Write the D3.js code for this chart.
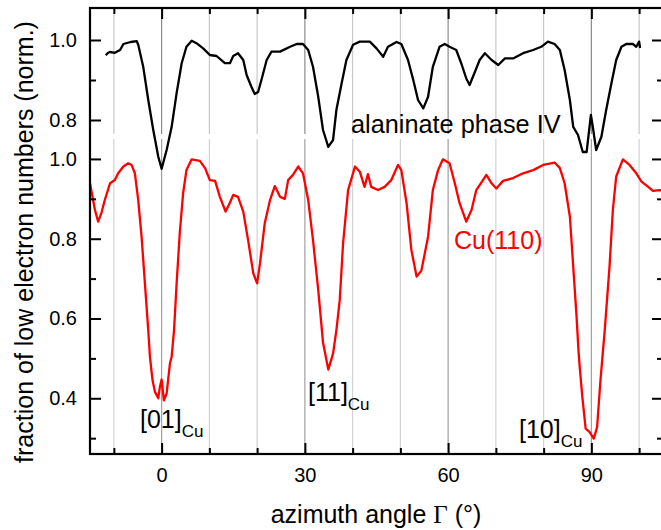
<!DOCTYPE html>
<html>
<head>
<meta charset="utf-8">
<script src="https://cdn.jsdelivr.net/npm/d3@7/dist/d3.min.js"></script>
<style>
  body { margin: 0; background: #fff; }
  svg { display: block; font-family: "Liberation Sans", Arial, sans-serif; }
</style>
</head>
<body>
<svg id="chart" width="661" height="530"></svg>
<script>
// alaninate phase IV (upper curve)
var angleAla = [-11.7,-11.2,-10.8,-9.8,-8.7,-8,-6.5,-5.2,-4.9,-3.85,-2.8,-1.75,-0.7,0,1.05,2.1,3.14,4.2,5.2,6.3,7.3,8.7,10.1,11.5,13.25,14.3,15,16,17.1,17.8,18.8,19.5,20.2,20.9,22,23,24.8,26.9,28.3,29.6,30.7,31.7,32.8,33.8,34.9,35.9,36.6,37.7,38.7,40.1,41.5,43.6,45,46.4,47.4,49.2,50.2,51.6,52.7,53.7,54.8,55.8,56.8,58.2,59.3,60.3,61.7,62.8,63.8,64.5,65.6,66.6,67.7,69.1,70.5,71.9,73.6,75.7,77.8,79.5,80.9,82.3,83.4,84.4,85.5,86.2,87.2,88.2,89,89.9,90.3,91,92.1,93.1,94.2,95.2,96.3,97.3,98.7,99.4,100,100.2];
var fracAla = [0.962,0.968,0.97,0.968,0.975,0.99,0.995,0.997,0.988,0.933,0.85,0.775,0.708,0.678,0.725,0.783,0.867,0.942,0.983,0.998,0.992,0.979,0.9625,0.96,0.942,0.942,0.96,0.967,0.95,0.9125,0.883,0.865,0.87,0.9,0.95,0.971,0.971,0.983,0.99,0.99,0.975,0.933,0.858,0.775,0.733,0.75,0.825,0.892,0.95,0.988,0.996,0.996,0.979,0.958,0.983,0.995,0.99,0.95,0.9,0.85,0.829,0.858,0.933,0.983,0.99,0.983,0.975,0.94,0.904,0.8875,0.92,0.95,0.967,0.95,0.9375,0.954,0.954,0.967,0.975,0.983,0.996,0.99,0.975,0.925,0.85,0.783,0.7625,0.72,0.72,0.8125,0.783,0.725,0.758,0.825,0.892,0.95,0.983,0.99,0.99,0.983,0.996,0.98];

// Cu(110) (lower curve)
var angleCu = [-15.3,-15,-13.96,-13.3,-12.6,-11.9,-10.8,-9.8,-9.1,-8,-7,-6.3,-5.6,-4.9,-4.2,-3.5,-2.8,-2.45,-1.9,-1.4,-0.7,-0.36,0,0.48,1.05,1.74,2.1,2.6,3.14,3.8,4.5,5.2,6.3,8,9.1,10.1,11.2,12.2,13.4,14.3,15,16,17.1,18.1,19.2,20,20.6,21.6,22.7,23.7,24.8,25.8,26.5,27.5,28.6,29.6,30.7,31.7,32.8,33.8,34.9,35.9,36.6,37.3,38,39.05,40.5,41.5,42.5,43.2,43.9,45.3,46.7,48.1,49.5,50.2,51.3,52.3,53.4,54.4,55.8,56.8,57.9,58.9,60.3,61.4,62.4,63.8,64.9,65.9,67.3,68,69.1,70.1,71.5,73.6,75.7,77.8,79.9,82.3,83.4,84.4,85.5,86.2,86.9,87.3,87.5,88.1,88.8,89.6,90.5,91.2,91.9,92.8,93.8,94.5,95.2,96.6,98,99.4,100.5,101.9,102.9,104.3,105.5];
var fracCu = [0.95,0.939,0.872,0.843,0.865,0.897,0.939,0.947,0.964,0.981,0.989,0.985,0.964,0.897,0.805,0.688,0.571,0.504,0.445,0.416,0.40,0.429,0.447,0.395,0.412,0.487,0.504,0.571,0.688,0.814,0.914,0.972,0.999,0.995,0.977,0.947,0.945,0.905,0.868,0.89,0.91,0.905,0.868,0.797,0.713,0.688,0.738,0.839,0.897,0.932,0.905,0.9,0.947,0.96,0.981,0.964,0.897,0.797,0.671,0.54,0.472,0.512,0.571,0.646,0.788,0.922,0.981,0.968,0.93,0.962,0.93,0.922,0.93,0.947,0.985,0.972,0.889,0.772,0.705,0.72,0.805,0.922,0.972,0.999,0.989,0.939,0.889,0.843,0.872,0.922,0.947,0.96,0.939,0.926,0.945,0.952,0.964,0.972,0.985,0.991,0.977,0.939,0.855,0.73,0.604,0.52,0.487,0.404,0.324,0.316,0.299,0.328,0.445,0.571,0.73,0.872,0.956,0.999,0.985,0.964,0.943,0.93,0.92,0.922,0.92];

var xMajor = [0, 30, 60, 90];
var xMinor = [-10, 10, 20, 40, 50, 70, 80, 100];
var yTopMajor = [0.8, 1.0], yTopMinor = [0.9];
var yCuMajor = [0.4, 0.6, 0.8, 1.0], yCuMinor = [0.3, 0.5, 0.7, 0.9];

var svg = d3.select('#chart');
var L = 90, R = 663, T = 8, B = 454;

var x = d3.scaleLinear().domain([-15, 105]).range([L, R]);
var yTop = d3.scaleLinear().domain([0.76, 1.08]).range([136, T]);
var yCu = d3.scaleLinear().domain([0.2603, 1.055]).range([B, 137]);

svg.append('defs').append('clipPath').attr('id', 'frame')
   .append('rect').attr('x', L).attr('y', T).attr('width', R - L).attr('height', B - T);

// grid lines, one set per layer
var grid = svg.append('g').attr('id', 'grid');
function gridLines(y0, y1, topLayer) {
    grid.append('g').selectAll('line')
        .data(xMajor.concat(xMinor))
        .enter().append('line')
        .attr('x1', function(d){ return x(d); }).attr('x2', function(d){ return x(d); })
        .attr('y1', y0).attr('y2', y1)
        .style('stroke', function(d){ return xMajor.indexOf(d) >= 0 ? (topLayer ? '#8c8c8c' : '#a0a0a0') : (topLayer ? '#c8c8c8' : '#d2d2d2'); })
        .style('stroke-width', 1.2);
}
gridLines(T, 134, true);
gridLines(139, B, false);

// curves
var plot = svg.append('g').attr('clip-path', 'url(#frame)');
var lineAla = d3.line().x(function(d){ return x(d[0]); }).y(function(d){ return yTop(d[1]); });
var lineCu = d3.line().x(function(d){ return x(d[0]); }).y(function(d){ return yCu(d[1]); });

plot.append('path')
    .attr('d', lineCu(d3.zip(angleCu, fracCu)))
    .style('fill', 'none').style('stroke', '#ff0000').style('stroke-width', 2.3)
    .style('stroke-linejoin', 'round');
plot.append('path')
    .attr('d', lineAla(d3.zip(angleAla, fracAla)))
    .style('fill', 'none').style('stroke', '#000').style('stroke-width', 2.3)
    .style('stroke-linejoin', 'round');

// axes (ticks inward)
function styleAxis(g) {
    g.select('.domain').remove();
    g.selectAll('line').style('stroke', '#000').style('stroke-width', 2);
    g.selectAll('text').style('font-size', '20px').style('fill', '#000')
     .style('font-family', '"Liberation Sans", Arial, sans-serif');
}
var axes = svg.append('g').attr('id', 'axes');
axes.append('g').attr('transform', 'translate(0,' + B + ')')
    .call(d3.axisBottom(x).tickValues(xMajor).tickSize(-11).tickPadding(14).tickFormat(d3.format('d'))).call(styleAxis);
axes.append('g').attr('transform', 'translate(0,' + B + ')')
    .call(d3.axisBottom(x).tickValues(xMinor).tickSize(-6).tickFormat('')).call(styleAxis);
axes.append('g').attr('transform', 'translate(0,' + T + ')')
    .call(d3.axisTop(x).tickValues(xMajor).tickSize(-11).tickFormat('')).call(styleAxis);
axes.append('g').attr('transform', 'translate(0,' + T + ')')
    .call(d3.axisTop(x).tickValues(xMinor).tickSize(-6).tickFormat('')).call(styleAxis);

[[yTop, yTopMajor, yTopMinor], [yCu, yCuMajor, yCuMinor]].forEach(function(p){
    axes.append('g').attr('transform', 'translate(' + L + ',0)')
        .call(d3.axisLeft(p[0]).tickValues(p[1]).tickSize(-11).tickPadding(13).tickFormat(d3.format('.1f'))).call(styleAxis);
    axes.append('g').attr('transform', 'translate(' + L + ',0)')
        .call(d3.axisLeft(p[0]).tickValues(p[2]).tickSize(-6).tickFormat('')).call(styleAxis);
    axes.append('g').attr('transform', 'translate(' + R + ',0)')
        .call(d3.axisRight(p[0]).tickValues(p[1]).tickSize(-11).tickFormat('')).call(styleAxis);
    axes.append('g').attr('transform', 'translate(' + R + ',0)')
        .call(d3.axisRight(p[0]).tickValues(p[2]).tickSize(-6).tickFormat('')).call(styleAxis);
});

// frame
axes.append('rect').attr('x', L).attr('y', T).attr('width', R - L).attr('height', B - T)
    .style('fill', 'none').style('stroke', '#000').style('stroke-width', 2.2);

// axis titles
svg.append('text')
    .attr('transform', 'translate(33,' + 242 + ') rotate(-90)')
    .attr('text-anchor', 'middle')
    .style('font-size', '25px')
    .text('fraction of low electron numbers (norm.)');

var xt = svg.append('text').attr('x', 376).attr('y', 523)
    .attr('text-anchor', 'middle').style('font-size', '25px');
xt.append('tspan').text('azimuth angle ');
xt.append('tspan').style('font-family', '"Liberation Serif", "Times New Roman", serif').text('Γ');
xt.append('tspan').text(' (°)');

// annotations
svg.append('text').attr('x', 351).attr('y', 133).style('font-size', '25.3px').text('alaninate phase IV');
svg.append('text').attr('x', 454).attr('y', 249).style('font-size', '25px').style('fill', '#ff0000').text('Cu(110)');

var dirLabels = [
    {t: '[01]', x: 140, y: 428},
    {t: '[11]', x: 308, y: 401},
    {t: '[10]', x: 519, y: 438}
];
dirLabels.forEach(function(d){
    var t = svg.append('text').attr('x', d.x).attr('y', d.y).style('font-size', '25px');
    t.append('tspan').text(d.t);
    t.append('tspan').attr('dy', 9).style('font-size', '17px').text('Cu');
});
</script>
</body>
</html>
